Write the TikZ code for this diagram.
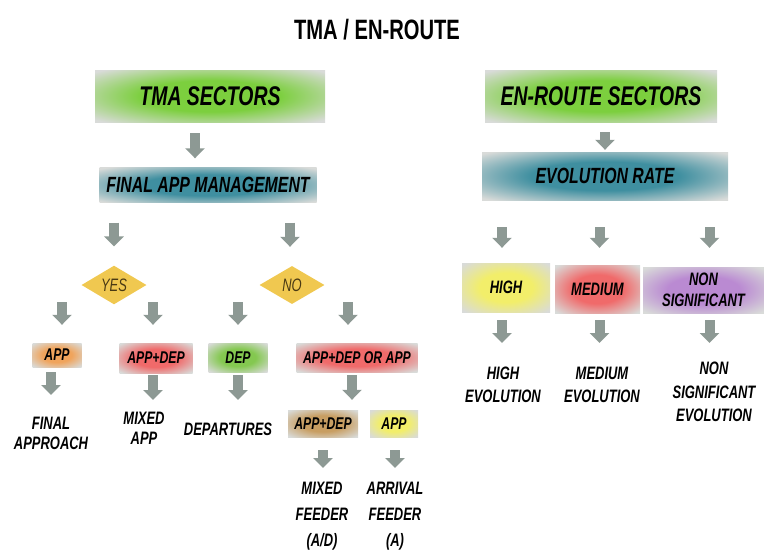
\documentclass[tikz,border=0pt]{standalone}
\usepackage{fontspec}
\setmainfont{Liberation Sans}[FakeStretch=0.72]
\usetikzlibrary{arrows.meta,shapes.geometric}
\definecolor{boxout}{HTML}{D9DBD9}
\definecolor{arrgray}{HTML}{8D9994}
\definecolor{cgreen}{HTML}{7CCF3E}
\definecolor{cteal}{HTML}{3F8FA0}
\definecolor{cgold}{HTML}{F0C850}
\definecolor{corange}{HTML}{F0A45C}
\definecolor{cred}{HTML}{F06A6A}
\definecolor{cdgreen}{HTML}{84C850}
\definecolor{ctan}{HTML}{C89E62}
\definecolor{cyellow}{HTML}{F2EE6A}
\definecolor{cpurple}{HTML}{BA8AD2}
\definecolor{yntext}{HTML}{4A3A14}
\colorlet{boxinner}{cgreen}
\pgfdeclareradialshading[boxinner]{boxshade}{\pgfpointorigin}{color(0bp)=(boxinner); color(15bp)=(boxinner); color(34bp)=(boxout); color(50bp)=(boxout)}
\tikzset{
  box/.style={rectangle, inner sep=0pt, text=black,
    /utils/exec={\colorlet{boxinner}{#1}}, shade, shading=boxshade,
    font=\bfseries\itshape\fontsize{17}{19}\selectfont},
  bigbox/.style={box=#1, font=\bfseries\itshape\fontsize{27}{29}\selectfont},
  midbox/.style={box=#1, font=\bfseries\itshape\fontsize{22}{24}\selectfont},
  evbox/.style={box=#1, align=center, font=\bfseries\itshape\fontsize{18}{21}\selectfont},
  yn/.style={diamond, inner sep=0pt, minimum width=65pt, minimum height=38pt,
    fill=cgold, text=yntext, font=\itshape\fontsize{18}{20}\selectfont},
  lab/.style={anchor=north, inner sep=0pt, align=center, text=black,
    font=\bfseries\itshape\fontsize{18}{#1}\selectfont},
  blk/.style 2 args={draw=arrgray, line width=10pt, shorten <=#1, shorten >=#2,
    -{Triangle[width=19pt,length=10pt]}}
}
\begin{document}
\begin{tikzpicture}[x=1pt,y=-1pt]
\path[use as bounding box] (0,0) rectangle (764,555);
% title
\node[font=\bfseries\fontsize{28}{30}\selectfont] (title) at (377,30) {TMA / EN-ROUTE};
% top boxes
\node[bigbox=cgreen, minimum width=230pt, minimum height=52pt] (tma) at (210,96) {TMA SECTORS};
\node[bigbox=cgreen, minimum width=232pt, minimum height=52pt] (ers) at (601,96) {EN-ROUTE SECTORS};
\node[midbox=cteal, minimum width=217pt, minimum height=35pt] (fam) at (208,185) {FINAL APP MANAGEMENT};
\node[midbox=cteal, minimum width=246pt, minimum height=48pt] (evr) at (605,176) {EVOLUTION RATE};
% diamonds
\node[yn] (yes) at (114,285) {YES};
\node[yn] (no) at (292,285) {NO};
% small boxes
\node[box=corange, minimum width=49pt, minimum height=24pt] (app1) at (57,355) {APP};
\node[box=cred, minimum width=73pt, minimum height=30pt] (ad1) at (156,358) {APP+DEP};
\node[box=cdgreen, minimum width=59pt, minimum height=29pt] (dep) at (238,357.5) {DEP};
\node[box=cred, minimum width=121pt, minimum height=29pt] (aora) at (357,357.5) {APP+DEP OR APP};
\node[box=ctan, minimum width=70pt, minimum height=27pt] (ad2) at (323,423.5) {APP+DEP};
\node[box=cyellow, minimum width=48pt, minimum height=27pt] (app2) at (394,423.5) {APP};
\node[evbox=cyellow, minimum width=88pt, minimum height=49pt] (high) at (506,287.5) {HIGH};
\node[evbox=cred, minimum width=85pt, minimum height=48pt] (med) at (597.5,289) {MEDIUM};
\node[evbox=cpurple, minimum width=121pt, minimum height=46pt] (nons) at (703.5,290) {NON\\SIGNIFICANT};
% text labels
\node[lab=20] (ftext) at (51,417) {FINAL\\APPROACH};
\node[lab=20] (mtext) at (144,412) {MIXED\\APP};
\node[lab=20] (dtext) at (228,423) {DEPARTURES};
\node[lab=26] (mftext) at (322,482) {MIXED\\FEEDER\\(A/D)};
\node[lab=26] (aftext) at (395,482) {ARRIVAL\\FEEDER\\(A)};
\node[lab=23] (htext) at (503,367) {HIGH\\EVOLUTION};
\node[lab=23] (mdtext) at (602,367) {MEDIUM\\EVOLUTION};
\node[lab=23.5] (ntext) at (714,362) {NON\\SIGNIFICANT\\EVOLUTION};
% arrows
\draw[blk={11pt}{9pt}] ([xshift=-15pt]tma.south) -- ([xshift=-15pt]tma.south |- fam.north);
\draw[blk={10pt}{2pt}] (evr.north |- ers.south) -- (evr.north);
\draw[blk={20pt}{19pt}] (yes |- fam.south) -- (yes.north);
\draw[blk={20pt}{19pt}] ([xshift=-2pt]no.north |- fam.south) -- ([xshift=-2pt]no.north);
\draw[blk={17pt}{18pt}] ([xshift=5pt]app1.north |- yes) -- ([xshift=5pt]app1.north);
\draw[blk={17pt}{18pt}] ([xshift=-3pt]ad1.north |- yes) -- ([xshift=-3pt]ad1.north);
\draw[blk={17pt}{18pt}] (dep.north |- no) -- (dep.north);
\draw[blk={17pt}{18pt}] ([xshift=-9pt]aora.north |- no) -- ([xshift=-9pt]aora.north);
\draw[blk={5pt}{22pt}] (ftext.north |- app1.south) -- (ftext.north);
\draw[blk={2pt}{12pt}] ([xshift=-3pt]ad1.south) -- ([xshift=-3pt]ad1.south |- mtext.north);
\draw[blk={3pt}{23pt}] (dep.south) -- (dep.south |- dtext.north);
\draw[blk={3pt}{10pt}] ([xshift=-5pt]aora.south) -- ([xshift=-5pt]aora.south |- ad2.north);
\draw[blk={13pt}{14pt}] (ad2.south) -- (ad2.south |- mftext.north);
\draw[blk={13pt}{14pt}] ([xshift=1pt]app2.south) -- ([xshift=1pt]app2.south |- aftext.north);
\draw[blk={27pt}{15pt}] ([xshift=-4pt]high.north |- evr.south) -- ([xshift=-4pt]high.north);
\draw[blk={27pt}{17pt}] ([xshift=2pt]med.north |- evr.south) -- ([xshift=2pt]med.north);
\draw[blk={27pt}{19pt}] ([xshift=6pt]nons.north |- evr.south) -- ([xshift=6pt]nons.north);
\draw[blk={8pt}{24pt}] ([xshift=-4pt]high.south) -- ([xshift=-4pt]high.south |- htext.north);
\draw[blk={7pt}{24pt}] ([xshift=2pt]med.south) -- ([xshift=2pt]med.south |- mdtext.north);
\draw[blk={7pt}{19pt}] ([xshift=6pt]nons.south) -- ([xshift=6pt]nons.south |- ntext.north);
\end{tikzpicture}
\end{document}
